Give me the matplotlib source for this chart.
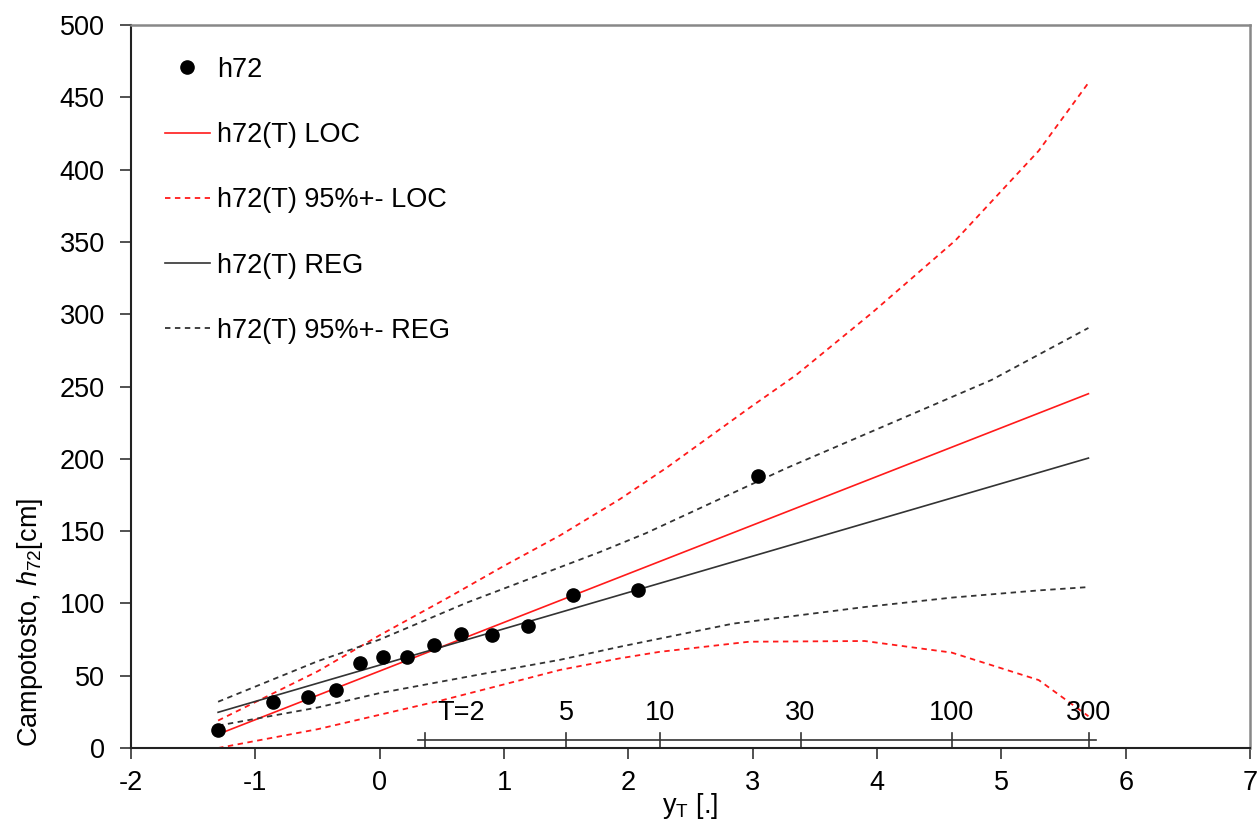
import numpy as np
import matplotlib
matplotlib.use("Agg")
import matplotlib.pyplot as plt

plt.rcParams['font.family'] = ['Liberation Sans', 'DejaVu Sans']
plt.rcParams['mathtext.fontset'] = 'custom'
plt.rcParams['mathtext.rm'] = 'Liberation Sans'
plt.rcParams['mathtext.it'] = 'Liberation Sans:italic'
plt.rcParams['axes.unicode_minus'] = False

# ---- data ----
obs_x = [-1.30, -0.86, -0.58, -0.355, -0.155, 0.03, 0.222, 0.434, 0.652, 0.905, 1.19, 1.553, 2.075, 3.044]
obs_y = [12.8, 31.7, 35.0, 40.2, 58.5, 62.8, 62.8, 71.3, 78.6, 78.3, 84.6, 106.0, 109.2, 187.8]

loc_x = [-1.30, 5.70]
loc_y = [9.5, 245.0]
reg_x = [-1.30, 5.70]
reg_y = [24.7, 200.5]

loc_up_x = [-1.30, -0.5, 0.0, 0.55, 1.0, 1.45, 1.93, 2.31, 2.97, 3.35, 3.96, 4.63, 5.30, 5.70]
loc_up_y = [19, 53, 78, 104, 126, 147, 172, 194, 235, 258, 301, 351, 413, 460]
loc_lo_x = [-1.30, -0.5, 0.0, 0.5, 1.0, 1.45, 1.93, 2.25, 2.97, 3.90, 4.60, 5.30, 5.70]
loc_lo_y = [0, 13, 23, 33, 44, 54, 62, 66.5, 73.5, 74, 66, 47, 22]

reg_up_x = [-1.30, -0.5, 0.0, 0.70, 1.77, 2.14, 3.27, 4.92, 5.70]
reg_up_y = [32, 60, 75, 100.5, 135.5, 148.5, 193.5, 254.5, 290.5]
reg_lo_x = [-1.30, -0.5, 0.0, 0.5, 1.0, 1.45, 1.93, 2.84, 3.90, 4.60, 5.30, 5.70]
reg_lo_y = [15.5, 28, 38, 46, 54, 61, 70, 86, 97.5, 104, 109, 111.3]

T_values = [2, 5, 10, 30, 100, 300]
T_labels = ["T=2", "5", "10", "30", "100", "300"]

FS = 19.5
RED = '#ff1a1a'
DK = '#333333'

fig = plt.figure(figsize=(12.59, 8.22), dpi=100)
ax = fig.add_axes([0.1041, 0.0900, 0.8888, 0.8796])

ax.plot(loc_x, loc_y, color=RED, lw=1.2, label='h72(T) LOC')
ax.plot(loc_up_x, loc_up_y, color=RED, lw=1.3, ls=(0, (3, 2.5)), label='h72(T) 95%+- LOC')
ax.plot(loc_lo_x, loc_lo_y, color=RED, lw=1.3, ls=(0, (3, 2.5)))
ax.plot(reg_x, reg_y, color=DK, lw=1.2, label='h72(T) REG')
ax.plot(reg_up_x, reg_up_y, color=DK, lw=1.3, ls=(0, (3, 2.5)), label='h72(T) 95%+- REG')
ax.plot(reg_lo_x, reg_lo_y, color=DK, lw=1.3, ls=(0, (3, 2.5)))
ax.plot(obs_x, obs_y, 'o', color='black', ms=9.5, label='h72', zorder=5)

# return period secondary axis
T_pos = [-np.log(-np.log(1 - 1 / t)) for t in T_values]
ax.plot([0.31, 5.76], [5.5, 5.5], color=DK, lw=1.2, clip_on=False)
for p, lab in zip(T_pos, T_labels):
    ax.plot([p, p], [0.5, 10.5], color=DK, lw=1.2)
    if lab.startswith('T='):
        ax.text(p + 0.29, 24, lab, ha='center', va='center', fontsize=FS)
    else:
        ax.text(p, 24, lab, ha='center', va='center', fontsize=FS)

ax.set_xlim(-2, 7)
ax.set_ylim(0, 500)
ax.set_xticks(range(-2, 8))
ax.set_yticks(range(0, 501, 50))
ax.tick_params(axis='both', labelsize=FS, direction='out', length=8, width=1.2, color=DK)
ax.tick_params(axis='x', pad=8)
ax.tick_params(axis='y', pad=11)

for s in ['left', 'bottom']:
    ax.spines[s].set_color('#222222')
    ax.spines[s].set_linewidth(1.5)
for s in ['top', 'right']:
    ax.spines[s].set_color('#888888')
    ax.spines[s].set_linewidth(1.8)

ax.set_xlabel(r'y$_\mathrm{T}$ [.]', fontsize=FS, labelpad=-4)
ax.set_ylabel(r'Campotosto, $h_{72}$[cm]', fontsize=FS)
ax.yaxis.set_label_coords(-0.077, 0.174)

h, l = ax.get_legend_handles_labels()
order = ['h72', 'h72(T) LOC', 'h72(T) 95%+- LOC', 'h72(T) REG', 'h72(T) 95%+- REG']
hd = dict(zip(l, h))
leg = ax.legend([hd[k] for k in order], order, loc='upper left', bbox_to_anchor=(0.030, 0.956),
                frameon=False, fontsize=FS, handlelength=1.67, handletextpad=0.26,
                labelspacing=1.45, borderpad=0, borderaxespad=0)

fig.savefig('out.png', dpi=100)
